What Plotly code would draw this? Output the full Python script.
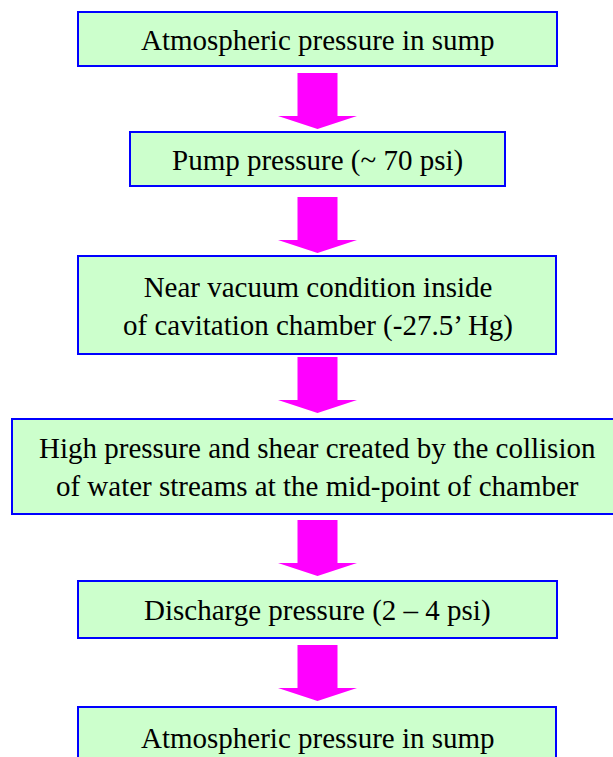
import plotly.graph_objects as go

# Flowchart content
steps = [
    "Atmospheric pressure in sump",
    "Pump pressure (~ 70 psi)",
    "Near vacuum condition inside<br>of cavitation chamber (-27.5\u2019 Hg)",
    "High pressure and shear created by the collision<br>of water streams at the mid-point of chamber",
    "Discharge pressure (2 \u2013 4 psi)",
    "Atmospheric pressure in sump",
]

# Layout geometry (pixels, y downwards)
box_left = [78, 130, 78, 12, 78, 78]
box_right = [557, 505, 556, 625, 557, 556]
box_top = [12, 132, 256, 419, 581, 707]
box_bottom = [66, 186, 354, 514, 638, 770]
text_y = [40, 160, 306, 467, 610, 738]
arrow_top = [73, 197, 357, 520, 645]
W, H = 613, 757
CX = 317.5

FILL = "#CCFFCC"
BORDER = "#0000FF"
ARROW = "#FF00FF"

fig = go.Figure()
shapes = []
for x0, x1, y0, y1 in zip(box_left, box_right, box_top, box_bottom):
    shapes.append(dict(type="rect", xref="x", yref="y", x0=x0, x1=x1, y0=y0, y1=y1,
                       fillcolor=FILL, line=dict(color=BORDER, width=2), layer="below"))

for t in arrow_top:
    sw, hw = 20, 39.5
    head_y = t + 43
    tip = t + 56
    path = (f"M {CX - sw},{t} L {CX + sw},{t} L {CX + sw},{head_y} L {CX + hw},{head_y} "
            f"L {CX},{tip} L {CX - hw},{head_y} L {CX - sw},{head_y} Z")
    shapes.append(dict(type="path", xref="x", yref="y", path=path,
                       fillcolor=ARROW, line=dict(color=ARROW, width=0), layer="below"))

annotations = []
for s, y in zip(steps, text_y):
    annotations.append(dict(x=CX, y=y, xref="x", yref="y", text=s, showarrow=False,
                            xanchor="center", yanchor="middle", align="center",
                            font=dict(family="Liberation Serif", size=29, color="black")))

fig.add_trace(go.Scatter(x=[0, W], y=[0, H], mode="markers", marker=dict(opacity=0),
                         hoverinfo="skip", showlegend=False))

fig.update_layout(
    width=W, height=H,
    margin=dict(l=0, r=0, t=0, b=0),
    paper_bgcolor="white", plot_bgcolor="white",
    xaxis=dict(range=[0, W], visible=False, fixedrange=True),
    yaxis=dict(range=[H, 0], visible=False, fixedrange=True),
    shapes=shapes, annotations=annotations,
    showlegend=False,
)

fig.write_html("out.html", config={"displayModeBar": False},
               post_script="document.body.style.margin='0';document.body.style.overflow='hidden';")
